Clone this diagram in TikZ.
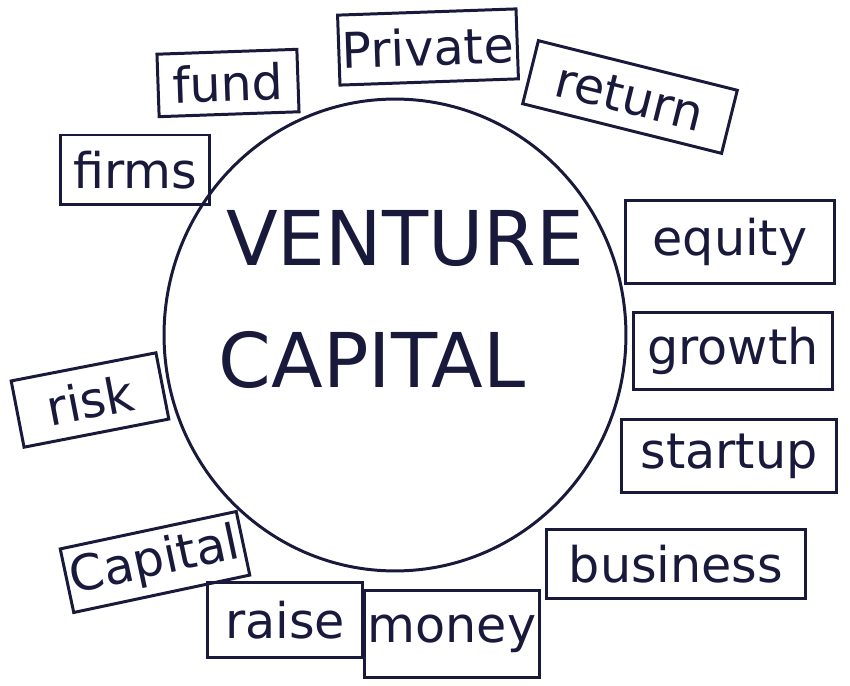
\documentclass[tikz,border=0pt]{standalone}
\usepackage{fontspec}
\setmainfont{DejaVu Sans}
\usetikzlibrary{shapes.geometric}
\definecolor{ink}{RGB}{25,25,60}
\tikzset{
    word/.style={draw=ink, line width=1.7pt, text=ink, font=\fontsize{28}{30}\selectfont, inner sep=2pt},
    title/.style={text=ink, font=\fontsize{43}{46}\selectfont}
}

\begin{document}
\begin{tikzpicture}[x=0.02cm, y=-0.02cm]
    \useasboundingbox (0,0) rectangle (850,686);

    % Centre - the big circle
    \node[draw=ink, line width=1.7pt, ellipse, minimum width=9.24cm, minimum height=9.44cm] (vc) at (395,335) {};
    \node[title] (venture) at (405,238) {VENTURE};
    \node[title] (capital) at (372,360) {CAPITAL};

    % Top row
    \node[word, minimum width=2.8cm, minimum height=1.25cm, rotate=2] (fund) at (228,83) {fund};
    \node[word, minimum width=3.5cm, minimum height=1.4cm, rotate=2] (private) at (428,47) {Private};
    \node[word, minimum width=4.1cm, minimum height=1.3cm, rotate=-14] (return) at (630,97) {return};

    % Left side
    \node[word, minimum width=3.0cm, minimum height=1.4cm] (firms) at (135,170) {firms};
    \node[word, minimum width=2.95cm, minimum height=1.35cm, rotate=11] (risk) at (90,400) {risk};
    \node[word, minimum width=3.6cm, minimum height=1.3cm, rotate=12] (capitalw) at (155,562) {Capital};

    % Right side
    \node[word, minimum width=4.2cm, minimum height=1.65cm] (equity) at (730,242) {equity};
    \node[word, minimum width=4.0cm, minimum height=1.55cm] (growth) at (733,351) {growth};
    \node[word, minimum width=4.3cm, minimum height=1.45cm] (startup) at (729,456) {startup};

    % Bottom row
    \node[word, minimum width=3.1cm, minimum height=1.5cm] (raise) at (285,620) {raise};
    \node[word, minimum width=3.1cm, minimum height=1.75cm] (money) at (452,634) {money};
    \node[word, minimum width=5.2cm, minimum height=1.4cm] (business) at (676,564) {business};
\end{tikzpicture}
\end{document}
